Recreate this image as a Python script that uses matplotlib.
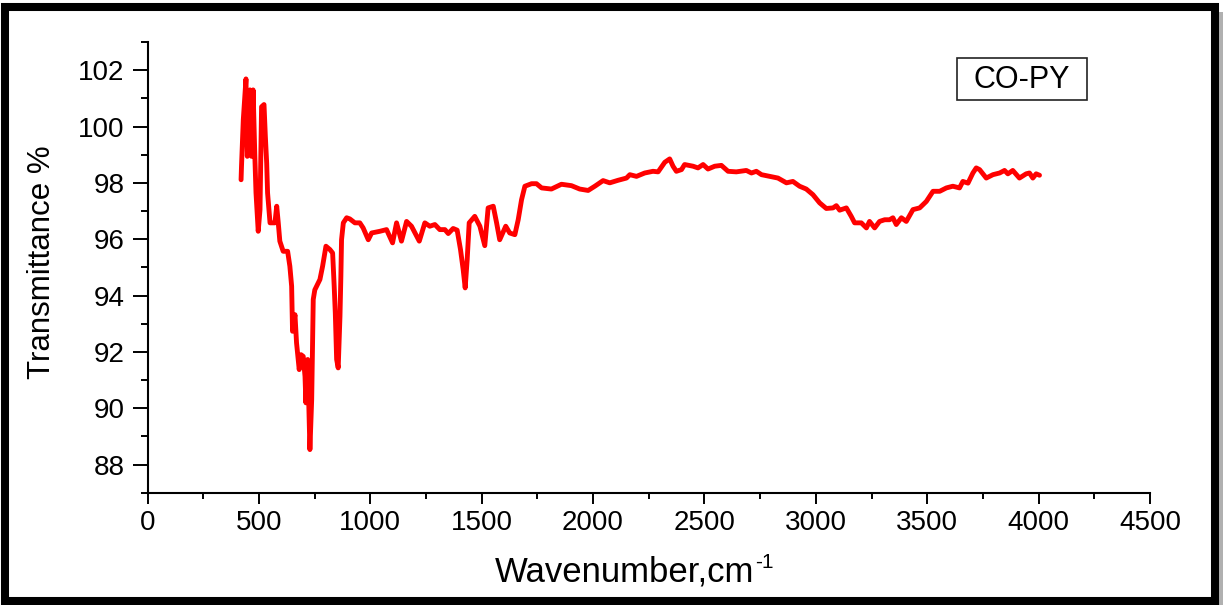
import matplotlib
matplotlib.use("Agg")
import matplotlib.pyplot as plt
from matplotlib.patches import Rectangle
from matplotlib.ticker import MultipleLocator

# FTIR spectrum of the CO-PY sample
wavenumber = [
    420, 422, 430, 442, 448, 460, 467, 474, 482, 487, 497, 505, 512, 523, 529,
    535, 539, 550, 572, 580, 587, 594, 609, 629, 639, 647, 651, 662, 669, 681,
    689, 699, 707, 711, 719, 729, 737, 744, 751, 774, 786, 801, 819, 831, 838,
    843, 849, 856, 864, 868, 871, 879, 894, 908, 931, 953, 968, 991, 1006,
    1043, 1073, 1100, 1118, 1140, 1163, 1185, 1220, 1245, 1267, 1290, 1312,
    1335, 1350, 1372, 1390, 1405, 1417, 1426, 1435, 1444, 1469, 1492, 1514,
    1529, 1552, 1567, 1581, 1608, 1626, 1649, 1664, 1679, 1694, 1724, 1746,
    1769, 1813, 1858, 1903, 1940, 1978, 2008, 2045, 2075, 2112, 2150, 2165,
    2195, 2232, 2269, 2292, 2322, 2344, 2359, 2374, 2397, 2411, 2449, 2471,
    2494, 2516, 2546, 2576, 2606, 2643, 2688, 2711, 2733, 2756, 2793, 2830,
    2868, 2897, 2927, 2957, 2987, 3017, 3047, 3077, 3092, 3107, 3137, 3159,
    3174, 3204, 3227, 3241, 3264, 3286, 3309, 3331, 3346, 3361, 3384, 3406,
    3436, 3466, 3496, 3526, 3556, 3586, 3615, 3645, 3660, 3683, 3705, 3720,
    3735, 3765, 3795, 3825, 3847, 3862, 3884, 3914, 3944, 3959, 3974, 3989,
    4004,
]
transmittance = [
    98.11, 98.60, 100.24, 101.69, 98.94, 101.30, 98.94, 101.30, 98.90, 97.65,
    96.28, 97.05, 100.70, 100.78, 99.65, 98.70, 97.64, 96.58, 96.58, 97.17,
    96.58, 95.93, 95.57, 95.57, 95.04, 94.33, 92.73, 93.32, 92.32, 91.37,
    91.90, 91.84, 91.13, 90.19, 91.73, 88.53, 90.31, 93.86, 94.20, 94.57,
    95.04, 95.75, 95.63, 95.51, 94.33, 93.38, 91.73, 91.43, 93.27, 94.68,
    95.98, 96.58, 96.76, 96.72, 96.58, 96.58, 96.40, 95.98, 96.22,
    96.28, 96.34, 95.87, 96.58, 95.93, 96.63, 96.46, 95.93, 96.58, 96.46,
    96.52, 96.34, 96.34, 96.20, 96.38, 96.32, 95.63, 94.92, 94.27, 95.28,
    96.58, 96.81, 96.46, 95.77, 97.11, 97.17, 96.58, 95.98, 96.46, 96.22,
    96.16, 96.69, 97.40, 97.88, 97.97, 97.97, 97.82, 97.78, 97.95, 97.90,
    97.78, 97.73, 97.88, 98.08, 98.00, 98.09, 98.17, 98.29, 98.23, 98.35,
    98.41, 98.39, 98.73, 98.85, 98.59, 98.41, 98.47, 98.65, 98.59, 98.53,
    98.65, 98.49, 98.59, 98.62, 98.41, 98.39, 98.44, 98.35, 98.41, 98.29,
    98.23, 98.17, 98.00, 98.05, 97.88, 97.78, 97.58, 97.29, 97.09, 97.11,
    97.19, 97.03, 97.11, 96.81, 96.58, 96.58, 96.40, 96.63, 96.40, 96.63,
    96.69, 96.69, 96.76, 96.52, 96.76, 96.63, 97.05, 97.11, 97.34, 97.70,
    97.70, 97.82, 97.88, 97.82, 98.05, 97.99, 98.35, 98.53, 98.47, 98.17,
    98.29, 98.35, 98.44, 98.32, 98.44, 98.17, 98.32, 98.35, 98.17, 98.32,
    98.27,
]

x_ticks = [0, 500, 1000, 1500, 2000, 2500, 3000, 3500, 4000, 4500]
y_ticks = [88, 90, 92, 94, 96, 98, 100, 102]
sample_name = "CO-PY"

plt.rcParams["font.family"] = ["Liberation Sans", "DejaVu Sans"]

W, H = 1223, 605
fig = plt.figure(figsize=(W / 100, H / 100), dpi=100)
ax = fig.add_axes([147.5 / W, 1 - 492.7 / H, (1150 - 147.5) / W, (492.7 - 42) / H])

ax.plot(wavenumber, transmittance, color="#ff0000", lw=3.5,
        solid_joinstyle="round", solid_capstyle="round")

ax.set_xlim(0, 4500)
ax.set_ylim(87, 103)
ax.set_xticks(x_ticks)
ax.set_yticks(y_ticks)
ax.xaxis.set_minor_locator(MultipleLocator(250))
ax.yaxis.set_minor_locator(MultipleLocator(1))

for side in ("top", "right"):
    ax.spines[side].set_visible(False)
for side in ("left", "bottom"):
    ax.spines[side].set_linewidth(1.5)

ax.tick_params(axis="x", which="major", direction="out", length=7.7, width=1.4,
               labelsize=20, pad=5)
ax.tick_params(axis="x", which="minor", direction="out", length=4.2, width=1.4)
ax.tick_params(axis="y", which="major", direction="out", length=10.5, width=1.4,
               labelsize=20, pad=6)
ax.tick_params(axis="y", which="minor", direction="out", length=5, width=1.4)

# x label with a plain-hyphen superscript placed after it
xlab = fig.text(495 / W, 1 - 581.5 / H, "Wavenumber,cm", fontsize=25,
                ha="left", va="baseline")
fig.canvas.draw()
bb = xlab.get_window_extent()
fig.text((bb.x1 + 1) / W, 1 - 568 / H, "-1", fontsize=15,
         ha="left", va="baseline")

ax.set_ylabel("Transmittance %", fontsize=22.5, va="center")
ax.yaxis.set_label_coords(-0.105, 0.512)

# sample name box
fig.patches.append(Rectangle((957 / W, 1 - 100 / H), 130 / W, 42 / H,
                             transform=fig.transFigure, fill=False,
                             edgecolor="#222222", lw=1.2))
fig.text(1021.5 / W, 1 - 79.5 / H, sample_name, fontsize=22,
         ha="center", va="center")

# outer frame with a soft shadow on the right
fig.patches.append(Rectangle((1219 / W, 0), 4 / W, 1 - 12 / H,
                             transform=fig.transFigure, facecolor="#b0b0b0",
                             edgecolor="none"))
fig.patches.append(Rectangle((4.5 / W, 1 - 601 / H), (1215 - 4.5) / W,
                             (601 - 7) / H, transform=fig.transFigure,
                             fill=False, edgecolor="black", lw=5.8))

fig.savefig("out.png", dpi=100)
